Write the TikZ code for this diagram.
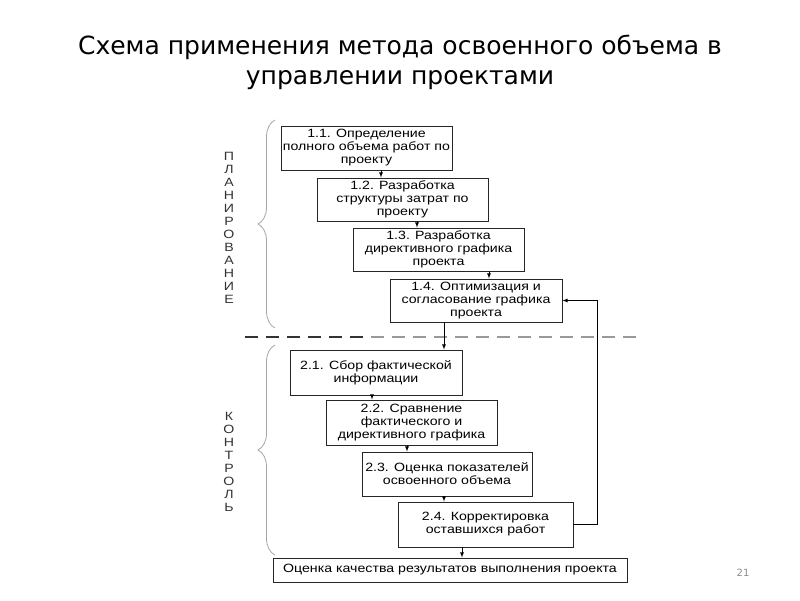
\documentclass[tikz,border=0pt]{standalone}
\usepackage{fontspec}
\setmainfont{Liberation Sans}[FakeStretch=1.18]
\newfontfamily\titlefont{DejaVu Sans}
\usetikzlibrary{shapes,arrows,decorations.pathreplacing}

\begin{document}
\begin{tikzpicture}[x=1pt, y=-1pt]
\tikzstyle{blockr}=[rectangle, draw=black!85, line width=0.9pt, inner sep=1pt, align=center, font=\fontsize{12}{13}\selectfont]
\tikzstyle{drawstyle}=[line width=0.8pt, -latex]
\tikzstyle{bracestyle}=[draw=gray!70, line width=0.8pt, decorate, decoration={brace, amplitude=17pt}]
\tikzstyle{lettersr}=[align=center, font=\fontsize{12}{13}\selectfont, inner sep=0pt, text=black!80]
\tikzstyle{splitdark}=[line width=2.6pt, draw=black!80, dash pattern=on 13pt off 8pt]
\tikzstyle{splitgray}=[line width=2.6pt, draw=black!40, dash pattern=on 13pt off 8pt]

\useasboundingbox (0,0) rectangle (800,600);

\node[align=center, font=\titlefont\fontsize{25}{30}\selectfont] (T) at (400,62) {Схема применения метода освоенного объема в\\управлении проектами};

\node[blockr, minimum width=171, minimum height=44] (P1) at (366.5,148) {1.1. Определение\\полного объема работ по\\проекту};
\node[blockr, minimum width=171, minimum height=43] (P2) at (402.5,199.5) {1.2. Разработка\\структуры затрат по\\проекту};
\node[blockr, minimum width=171, minimum height=43] (P3) at (438.5,249.5) {1.3. Разработка\\директивного графика\\проекта};
\node[blockr, minimum width=172, minimum height=43] (P4) at (476,300.5) {1.4. Оптимизация и\\согласование графика\\проекта};
\node[blockr, minimum width=172, minimum height=45] (K1) at (376,372.5) {2.1. Сбор фактической\\информации};
\node[blockr, minimum width=171, minimum height=45] (K2) at (411.5,422.5) {2.2. Сравнение\\фактического и\\директивного графика};
\node[blockr, minimum width=170, minimum height=44] (K3) at (447,474) {2.3. Оценка показателей\\освоенного объема};
\node[blockr, minimum width=175, minimum height=45] (K4) at (485.5,524.5) {2.4. Корректировка\\оставшихся работ};
\node[blockr, minimum width=354, minimum height=24] (R) at (450,570) {Оценка качества результатов выполнения проекта};

\node[lettersr] (L1) at (229,228) {П\\Л\\А\\Н\\И\\Р\\О\\В\\А\\Н\\И\\Е};
\node[lettersr] (L2) at (229,462) {К\\О\\Н\\Т\\Р\\О\\Л\\Ь};

\draw[bracestyle] (275,328) -- (275,120);
\draw[bracestyle] (275,555) -- (275,345);

\draw[splitdark] (245,337) -- (366,337);
\draw[splitgray] (371,337) -- (640,337);

\coordinate (a1) at (381,0);
\coordinate (a2) at (417,0);
\coordinate (a3) at (489,0);
\coordinate (a4) at (444,0);
\coordinate (b1) at (372,0);
\coordinate (b2) at (407,0);
\coordinate (b3) at (444,0);
\coordinate (b4) at (462,0);
\coordinate (fb) at (597,0);

\draw[drawstyle] (P1.south -| a1) -- (P2.north -| a1);
\draw[drawstyle] (P2.south -| a2) -- (P3.north -| a2);
\draw[drawstyle] (P3.south -| a3) -- (P4.north -| a3);
\draw[drawstyle] (P4.south -| a4) -- (K1.north -| a4);
\draw[drawstyle] (K1.south -| b1) -- (K2.north -| b1);
\draw[drawstyle] (K2.south -| b2) -- (K3.north -| b2);
\draw[drawstyle] (K3.south -| b3) -- (K4.north -| b3);
\draw[drawstyle] (K4.south -| b4) -- (R.north -| b4);
\draw[drawstyle] (K4.east) -- (K4.east -| fb) |- (P4.east);

\node[font=\titlefont\fontsize{10}{12}\selectfont, text=black!45] (N) at (743,573) {21};
\end{tikzpicture}
\end{document}
